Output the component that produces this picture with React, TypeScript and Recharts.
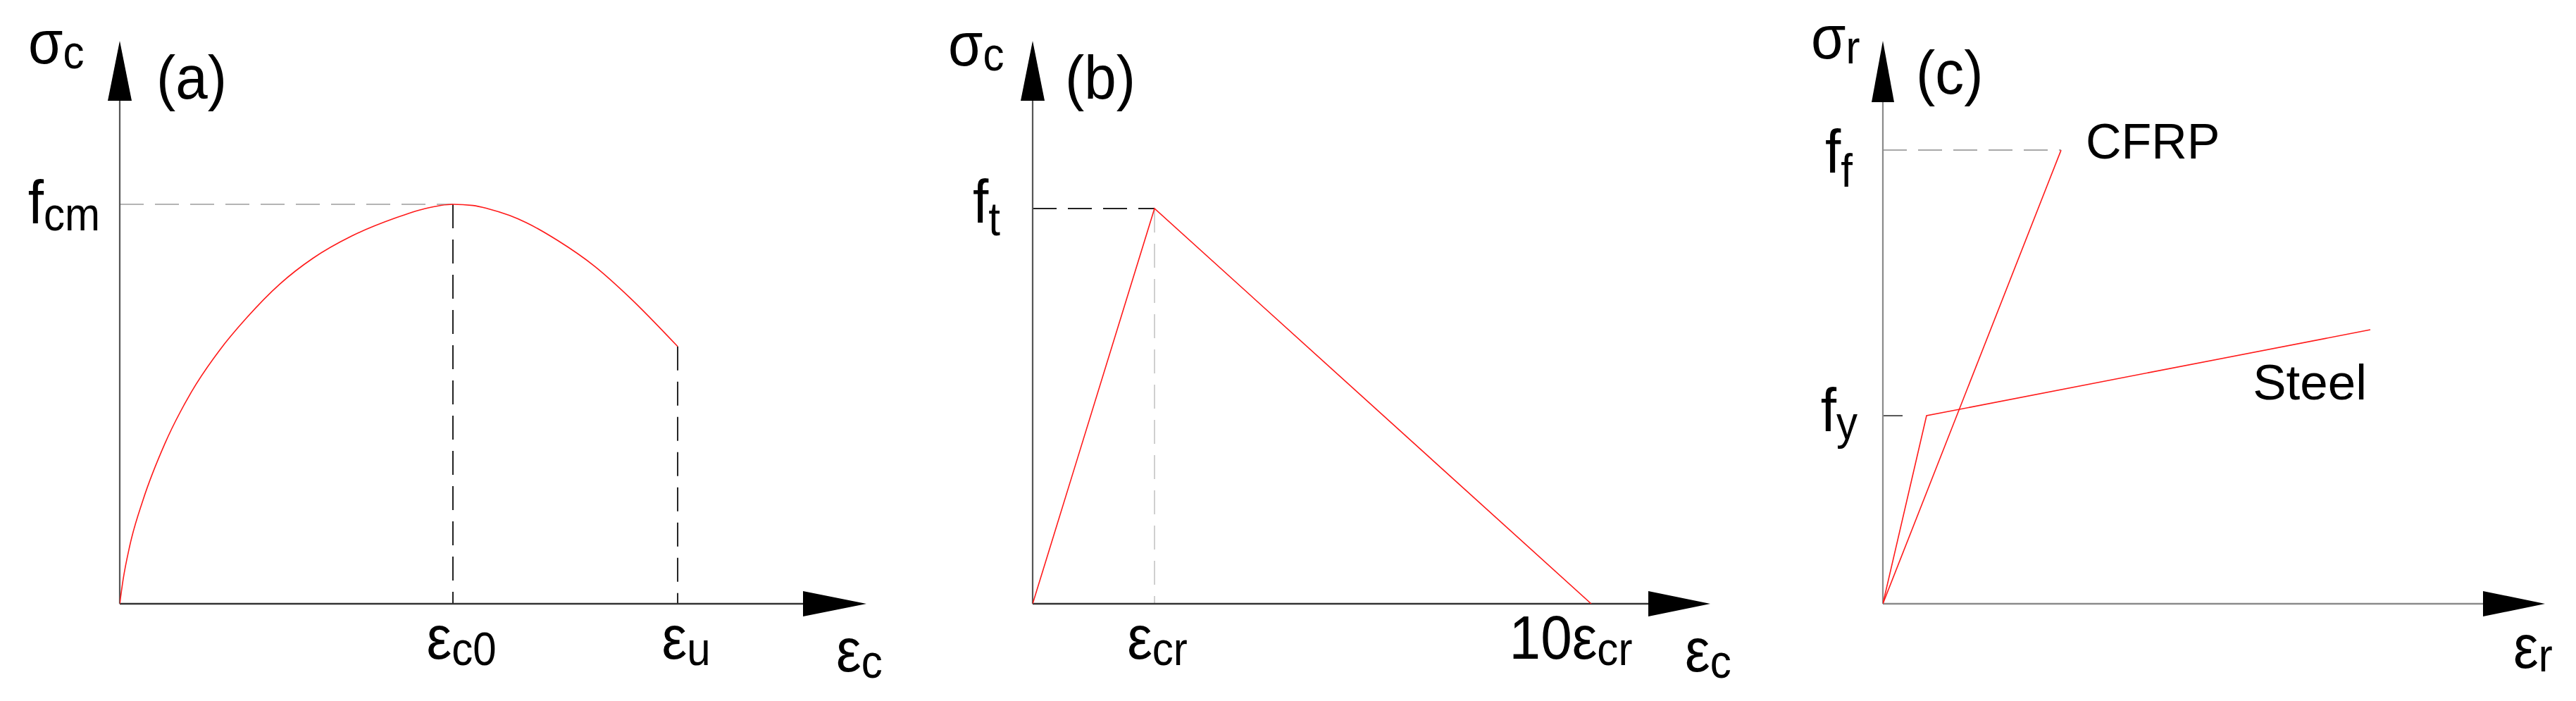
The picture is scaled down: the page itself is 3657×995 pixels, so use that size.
import React from 'react';
import { LineChart, Line, XAxis, YAxis, ReferenceLine, ReferenceDot } from 'recharts';

const FONT = '"Liberation Sans", Arial, Helvetica, sans-serif';

// ---------------- data ----------------
// (a) concrete in compression (strain scaled so that εc0 = 2, stress scaled so that fcm = 1)
const concreteStrain = [0, 0.02, 0.06, 0.14, 0.27, 0.43, 0.6, 0.76, 0.96, 1.16, 1.39, 1.65, 1.83, 2.0, 2.12, 2.21, 2.34, 2.44, 2.63, 2.85, 3.06, 3.349];
const concreteStress = [0, 0.06, 0.145, 0.26, 0.4, 0.53, 0.635, 0.715, 0.8, 0.865, 0.92, 0.965, 0.989, 1.0, 0.997, 0.989, 0.972, 0.954, 0.909, 0.845, 0.767, 0.644];
const epsC0 = 2.0;
const epsU = 3.349;
const fcm = 1.0;
const stressAtEpsU = 0.644;
const xTicksA = [epsC0, epsU];
const xTickMainA = ['ε', 'ε'];
const xTickSubA = ['c0', 'u'];
const yTicksA = [fcm];
const yTickMainA = ['f'];
const yTickSubA = ['cm'];

// (b) concrete in tension (strain scaled so that εcr = 1, stress so that ft = 1)
const tensionStrain = [0, 1, 4.584];
const tensionStress = [0, 1, 0];
const epsCr = 1;
const ft = 1;
const xTicksB = [1, 4.584];
const xTickMainB = ['ε', '10ε'];
const xTickSubB = ['cr', 'cr'];
const yTicksB = [ft];
const yTickMainB = ['f'];
const yTickSubB = ['t'];

// (c) reinforcement (strain scaled so that steel yield strain = 1, stress so that fy = 1)
const cfrpStrain = [0, 4.08];
const cfrpStress = [0, 2.412];
const steelStrain = [0, 1, 11.16];
const steelStress = [0, 1, 1.457];
const fy = 1;
const ff = 2.412;
const yTicksC = [fy, ff];
const yTickMainC = ['f', 'f'];
const yTickSubC = ['y', 'f'];

const toPts = (xs: number[], ys: number[]) => xs.map((x, i) => ({ x, y: ys[i] }));
const concreteData = toPts(concreteStrain, concreteStress);
const tensionData = toPts(tensionStrain, tensionStress);
const cfrpData = toPts(cfrpStrain, cfrpStress);
const steelData = toPts(steelStrain, steelStress);

// ---------------- helpers ----------------
const RED = '#ff1a1a';
const MAIN = 88;
const SUB = 66;
const SQUISH = 0.91;

function SymText(props: {
  x: number; y: number; main: string; sub?: string; anchor?: 'start' | 'middle' | 'end';
  size?: number; subSize?: number; subDy?: number; squish?: number;
}) {
  const { x, y, main, sub, anchor = 'start', size = MAIN, subSize = SUB, subDy = 9, squish = SQUISH } = props;
  return (
    <text
      transform={`translate(${x},${y}) scale(${squish},1)`}
      x={0}
      y={0}
      textAnchor={anchor}
      fontFamily={FONT}
      fontSize={size}
      fill="#000"
    >
      <tspan>{main}</tspan>
      {sub ? (
        <tspan fontSize={subSize} dy={subDy}>
          {sub}
        </tspan>
      ) : null}
    </text>
  );
}

type YArrowOpts = {
  color: string; halfW: number; len: number;
  titleMain: string; titleSub: string; titleDx: number; titleDy: number; titleSubDy: number;
  letter: string; letterDx: number; letterDy: number;
};
const yArrowShape = (o: YArrowOpts) => (p: any) => {
  const { x1, y1, x2, y2 } = p;
  return (
    <g>
      <line x1={x1} y1={y1} x2={x2} y2={y2 + o.len - 1} stroke={o.color} strokeWidth={2.2} />
      <polygon points={`${x2 - o.halfW},${y2 + o.len} ${x2},${y2} ${x2 + o.halfW},${y2 + o.len}`} fill="#000" />
      <SymText x={x2 + o.titleDx} y={y2 + o.titleDy} main={o.titleMain} sub={o.titleSub} subDy={o.titleSubDy} />
      <SymText x={x2 + o.letterDx} y={y2 + o.letterDy} main={o.letter} squish={0.93} />
    </g>
  );
};

type XArrowOpts = {
  color: string; halfH: number; len: number;
  titleMain: string; titleSub: string; titleDx: number; titleDy: number; titleSubDy: number;
};
const xArrowShape = (o: XArrowOpts) => (p: any) => {
  const { x1, y1, x2, y2 } = p;
  return (
    <g>
      <line x1={x1} y1={y1} x2={x2 - o.len + 1} y2={y2} stroke={o.color} strokeWidth={2.4} />
      <polygon points={`${x2 - o.len},${y2 - o.halfH} ${x2},${y2} ${x2 - o.len},${y2 + o.halfH}`} fill="#000" />
      <SymText x={x2 + o.titleDx} y={y2 + o.titleDy} main={o.titleMain} sub={o.titleSub} subDy={o.titleSubDy} />
    </g>
  );
};

const makeXTick = (values: number[], mains: string[], subs: string[], dxs: number[], dy: number, subDy: number) =>
  (props: any) => {
    const { x, y, payload } = props;
    const i = values.indexOf(payload.value);
    if (i < 0) return <g />;
    return <SymText x={x + dxs[i]} y={y + dy} main={mains[i]} sub={subs[i]} anchor="middle" subDy={subDy} />;
  };

const makeYTick = (values: number[], mains: string[], subs: string[], gaps: number[], dys: number[], subDys: number[]) =>
  (props: any) => {
    const { x, y, payload } = props;
    const i = values.indexOf(payload.value);
    if (i < 0) return <g />;
    return <SymText x={x - gaps[i]} y={y + dys[i]} main={mains[i]} sub={subs[i]} anchor="end" subDy={subDys[i]} />;
  };

const H = 995;
const Y_AXIS_W = 100;
const X_AXIS_H = 100;

// domains (layout of the schematic)
const XMAX_A = 4.482, YMAX_A = 1.409;
const XMAX_B = 5.561, YMAX_B = 1.424;
const XMAX_C = 15.16, YMAX_C = 2.993;

const DASH = '34 16';

export default function App() {
  return (
    <div style={{ position: 'absolute', left: 0, top: 0, width: 3657, height: 995, background: '#fff', overflow: 'hidden' }}>
      {/* ---------- (a) ---------- */}
      <div style={{ position: 'absolute', left: 0, top: 0 }}>
        <LineChart width={1260} height={H} margin={{ top: 58, right: 30, bottom: 38, left: 70 }} style={{ overflow: 'visible' }}>
          <XAxis
            type="number" dataKey="x" domain={[0, XMAX_A]} allowDataOverflow height={X_AXIS_H}
            axisLine={false} tickLine={false} tickSize={0} tickMargin={0} ticks={xTicksA}
            tick={makeXTick(xTicksA, xTickMainA, xTickSubA, [12, 12], 78, 9)} interval={0}
          />
          <YAxis
            type="number" dataKey="y" domain={[0, YMAX_A]} allowDataOverflow width={Y_AXIS_W}
            axisLine={false} tickLine={false} tickSize={0} tickMargin={0} ticks={yTicksA}
            tick={makeYTick(yTicksA, yTickMainA, yTickSubA, [28], [27], [10])} interval={0}
          />
          <ReferenceLine segment={[{ x: 0, y: fcm }, { x: epsC0, y: fcm }]} stroke="#b4b4b4" strokeWidth={2} strokeDasharray={DASH} />
          <ReferenceLine segment={[{ x: epsC0, y: fcm }, { x: epsC0, y: 0 }]} stroke="#222" strokeWidth={2} strokeDasharray={DASH} />
          <ReferenceLine segment={[{ x: epsU, y: stressAtEpsU }, { x: epsU, y: 0 }]} stroke="#222" strokeWidth={2} strokeDasharray={DASH} />
          <ReferenceLine
            segment={[{ x: 0, y: 0 }, { x: 0, y: YMAX_A }]}
            shape={yArrowShape({ color: '#555', halfW: 17, len: 85, titleMain: 'σ', titleSub: 'c', titleDx: -130, titleDy: 32, titleSubDy: 7, letter: '(a)', letterDx: 52, letterDy: 82 })}
          />
          <ReferenceLine
            segment={[{ x: 0, y: 0 }, { x: XMAX_A, y: 0 }]}
            shape={xArrowShape({ color: '#333', halfH: 18, len: 90, titleMain: 'ε', titleSub: 'c', titleDx: -43, titleDy: 96, titleSubDy: 9 })}
          />
          <Line data={concreteData} dataKey="y" type="monotone" stroke={RED} strokeWidth={1.6} dot={false} isAnimationActive={false} />
        </LineChart>
      </div>

      {/* ---------- (b) ---------- */}
      <div style={{ position: 'absolute', left: 1260, top: 0 }}>
        <LineChart width={1240} height={H} margin={{ top: 58, right: 72, bottom: 38, left: 106 }} style={{ overflow: 'visible' }}>
          <XAxis
            type="number" dataKey="x" domain={[0, XMAX_B]} allowDataOverflow height={X_AXIS_H}
            axisLine={false} tickLine={false} tickSize={0} tickMargin={0} ticks={xTicksB}
            tick={makeXTick(xTicksB, xTickMainB, xTickSubB, [4, -29], 78, 9)} interval={0}
          />
          <YAxis
            type="number" dataKey="y" domain={[0, YMAX_B]} allowDataOverflow width={Y_AXIS_W}
            axisLine={false} tickLine={false} tickSize={0} tickMargin={0} ticks={yTicksB}
            tick={makeYTick(yTicksB, yTickMainB, yTickSubB, [46], [20], [18])} interval={0}
          />
          <ReferenceLine segment={[{ x: 0, y: ft }, { x: epsCr, y: ft }]} stroke="#222" strokeWidth={2} strokeDasharray={DASH} />
          <ReferenceLine segment={[{ x: epsCr, y: ft }, { x: epsCr, y: 0 }]} stroke="#cfcfcf" strokeWidth={2} strokeDasharray={DASH} />
          <ReferenceLine
            segment={[{ x: 0, y: 0 }, { x: 0, y: YMAX_B }]}
            shape={yArrowShape({ color: '#555', halfW: 17, len: 85, titleMain: 'σ', titleSub: 'c', titleDx: -120, titleDy: 35, titleSubDy: 7, letter: '(b)', letterDx: 46, letterDy: 82 })}
          />
          <ReferenceLine
            segment={[{ x: 0, y: 0 }, { x: XMAX_B, y: 0 }]}
            shape={xArrowShape({ color: '#333', halfH: 18, len: 88, titleMain: 'ε', titleSub: 'c', titleDx: -36, titleDy: 96, titleSubDy: 9 })}
          />
          <Line data={tensionData} dataKey="y" type="linear" stroke={RED} strokeWidth={1.6} dot={false} isAnimationActive={false} />
        </LineChart>
      </div>

      {/* ---------- (c) ---------- */}
      <div style={{ position: 'absolute', left: 2460, top: 0 }}>
        <LineChart width={1197} height={H} margin={{ top: 58, right: 44, bottom: 38, left: 113 }} style={{ overflow: 'visible' }}>
          <XAxis
            type="number" dataKey="x" domain={[0, XMAX_C]} allowDataOverflow height={X_AXIS_H}
            axisLine={false} tickLine={false} tick={false}
          />
          <YAxis
            type="number" dataKey="y" domain={[0, YMAX_C]} allowDataOverflow width={Y_AXIS_W}
            axisLine={false} tickLine={false} tickSize={0} tickMargin={0} ticks={yTicksC}
            tick={makeYTick(yTicksC, yTickMainC, yTickSubC, [36, 43], [22, 32], [11, 20])} interval={0}
          />
          <ReferenceLine segment={[{ x: 0, y: ff }, { x: cfrpStrain[1], y: ff }]} stroke="#a8a8a8" strokeWidth={2} strokeDasharray={DASH} />
          <ReferenceLine segment={[{ x: 0, y: fy }, { x: steelStrain[1], y: fy }]} stroke="#555" strokeWidth={2} strokeDasharray="28 100" />
          <ReferenceLine
            segment={[{ x: 0, y: 0 }, { x: 0, y: YMAX_C }]}
            shape={yArrowShape({ color: '#8a8a8a', halfW: 16, len: 87, titleMain: 'σ', titleSub: 'r', titleDx: -102, titleDy: 25, titleSubDy: 7, letter: '(c)', letterDx: 47, letterDy: 75 })}
          />
          <ReferenceLine
            segment={[{ x: 0, y: 0 }, { x: XMAX_C, y: 0 }]}
            shape={xArrowShape({ color: '#8a8a8a', halfH: 18, len: 88, titleMain: 'ε', titleSub: 'r', titleDx: -45, titleDy: 91, titleSubDy: 5 })}
          />
          <Line data={cfrpData} dataKey="y" type="linear" stroke={RED} strokeWidth={1.6} dot={false} isAnimationActive={false} />
          <Line data={steelData} dataKey="y" type="linear" stroke={RED} strokeWidth={1.6} dot={false} isAnimationActive={false} />
          <ReferenceDot
            x={cfrpStrain[1]} y={cfrpStress[1]}
            shape={(p: any) => <SymText x={p.cx + 35} y={p.cy + 12} main="CFRP" size={70} squish={1} />}
          />
          <ReferenceDot
            x={steelStrain[2]} y={steelStress[2]}
            shape={(p: any) => <SymText x={p.cx - 5} y={p.cy + 99} main="Steel" size={71} squish={1} anchor="end" />}
          />
        </LineChart>
      </div>
    </div>
  );
}
